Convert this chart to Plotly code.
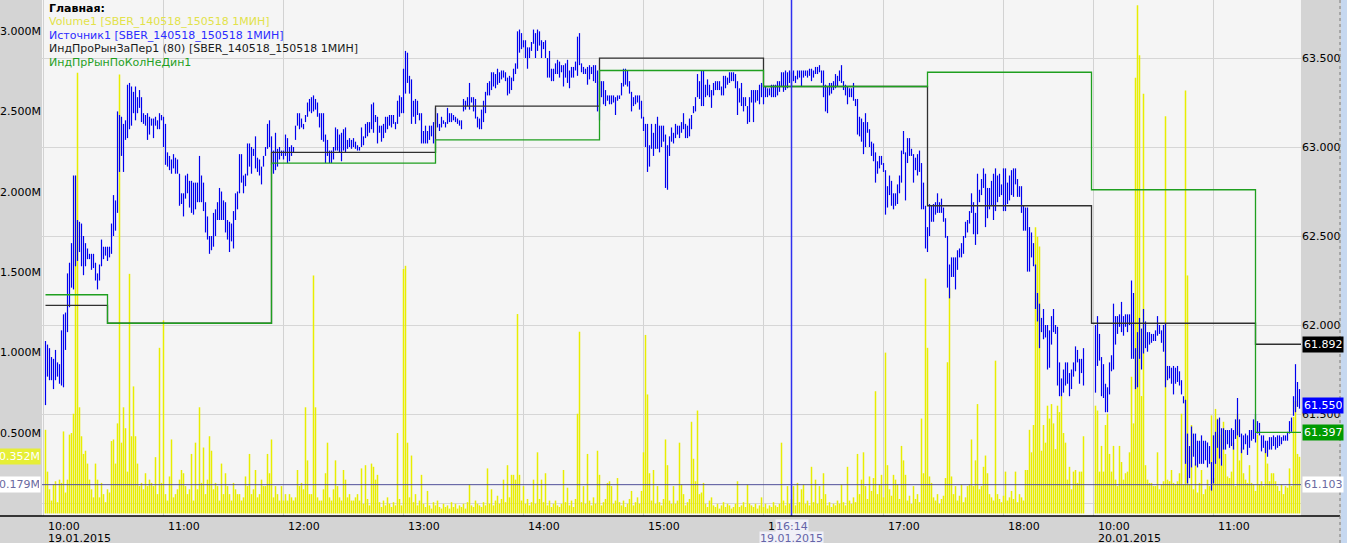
import plotly.graph_objects as go

# ---------------- data ----------------
SESSION_OPEN = "10:00"
SESSION_CLOSE = "18:45"
DAY1_FIRST_BAR = "10:01"
DAY2_FIRST_BAR = "10:01"
DAY1_DATE = "19.01.2015"
DAY2_DATE = "20.01.2015"

day1_high = [
61.91,61.89,61.87,61.82,61.81,61.86,61.79,61.78,61.97,62.06,
62.07,62.29,62.35,62.46,62.84,62.84,62.59,62.58,62.57,62.50,
62.46,62.43,62.40,62.40,62.40,62.35,62.29,62.34,62.48,62.44,
62.44,62.44,62.44,62.57,62.73,62.70,63.20,63.18,63.17,63.13,
63.15,63.35,63.36,63.34,63.31,63.34,63.28,63.32,63.28,63.19,
63.18,63.19,63.17,63.16,63.16,63.17,63.15,63.19,63.18,63.17,
63.13,62.97,62.95,62.93,62.96,62.94,62.93,62.85,62.74,62.74,
62.84,62.85,62.81,62.81,62.80,62.80,62.80,62.95,62.84,62.80,
62.69,62.61,62.50,62.50,62.63,62.65,62.69,62.77,62.75,62.70,
62.69,62.59,62.58,62.57,62.64,62.74,62.75,62.96,62.96,62.84,
62.85,63.02,63.02,63.00,62.99,63.06,62.94,62.93,62.89,62.95,
63.00,63.13,63.15,63.06,62.98,63.08,62.99,63.00,62.98,62.98,
63.07,63.05,63.00,63.01,63.00,63.12,63.19,63.19,63.16,63.13,
63.18,63.25,63.27,63.28,63.29,63.27,63.25,63.19,63.19,63.19,
63.07,63.04,62.98,62.98,63.00,63.11,63.10,63.07,63.08,63.10,
63.11,63.04,63.05,63.04,63.05,63.03,63.01,63.00,63.11,63.06,
63.13,63.14,63.14,63.24,63.25,63.18,63.17,63.12,63.12,63.13,
63.17,63.17,63.18,63.18,63.18,63.14,63.26,63.29,63.28,63.44,
63.54,63.53,63.40,63.38,63.26,63.27,63.26,63.19,63.19,63.09,
63.12,63.09,63.12,63.12,63.14,63.22,63.19,63.13,63.17,63.15,
63.14,63.22,63.19,63.19,63.18,63.17,63.16,63.15,63.15,63.27,
63.26,63.28,63.36,63.28,63.28,63.27,63.17,63.16,63.21,63.26,
63.31,63.36,63.37,63.42,63.42,63.41,63.44,63.42,63.43,63.43,
63.42,63.39,63.40,63.39,63.44,63.47,63.65,63.66,63.64,63.60,
63.60,63.56,63.56,63.59,63.66,63.64,63.66,63.65,63.60,63.59,
63.60,63.50,63.54,63.44,63.44,63.47,63.49,63.48,63.46,63.46,
63.47,63.49,63.43,63.45,63.45,63.48,63.62,63.64,63.47,63.45,
63.44,63.45,63.46,63.45,63.46,63.46,63.43,63.37,63.37,63.37,
63.32,63.29,63.29,63.29,63.29,63.28,63.29,63.29,63.36,63.44,
63.44,63.43,63.37,63.31,63.28,63.29,63.29,63.29,63.26,63.17,
63.13,63.13,63.01,63.13,63.08,63.13,63.17,63.12,63.12,63.12,
63.07,63.01,63.06,63.11,63.08,63.13,63.12,63.12,63.14,63.19,
63.13,63.12,63.16,63.18,63.23,63.28,63.41,63.37,63.43,63.43,
63.35,63.38,63.35,63.32,63.36,63.37,63.37,63.37,63.34,63.40,
63.40,63.39,63.42,63.42,63.42,63.41,63.37,63.33,63.36,63.28,
63.28,63.23,63.28,63.32,63.32,63.32,63.32,63.35,63.36,63.35,
63.34,63.33,63.33,63.35,63.35,63.35,63.37,63.37,63.42,63.42,
63.43,63.42,63.43,63.42,63.43,63.40,63.43,63.43,63.43,63.43,
63.43,63.43,63.44,63.44,63.43,63.45,63.45,63.46,63.43,63.43,
63.35,63.34,63.36,63.36,63.37,63.41,63.40,63.43,63.46,63.37,
63.35,63.34,63.33,63.33,63.36,63.27,63.27,63.17,63.16,63.14,
63.19,63.14,63.10,63.03,63.02,62.97,62.92,62.95,62.95,62.91,
62.87,62.78,62.84,62.81,62.74,62.74,62.79,62.84,62.98,63.09,
62.97,63.05,63.05,62.99,62.96,62.94,62.96,62.98,62.91,62.80,
62.67,62.55,62.68,62.67,62.68,62.69,62.74,62.69,62.71,62.66,
62.60,62.50,62.34,62.38,62.38,62.38,62.42,62.43,62.46,62.50,
62.58,62.59,62.64,62.74,62.69,62.63,62.85,62.76,62.82,62.88,
62.85,62.77,62.77,62.81,62.85,62.88,62.84,62.85,62.79,62.88,
62.88,62.80,62.84,62.87,62.88,62.88,62.82,62.78,62.78,62.67,
62.66,62.66,62.55,62.52,62.46,62.34,62.18,62.12,62.04,62.09,
62.00,62.00,61.97,62.05,62.09,62.00,61.99,61.79,61.70,61.75,
61.79,61.79,61.73,61.75,61.79,61.88,61.86,61.81,61.81,61.87,
]

day1_low = [
61.55,61.71,61.69,61.69,61.64,61.69,61.71,61.67,61.66,61.65,
61.86,61.96,62.10,62.21,62.20,62.33,62.36,62.41,62.33,62.28,
62.33,62.37,62.37,62.31,62.32,62.25,62.20,62.25,62.33,62.37,
62.39,62.36,62.38,62.40,62.50,62.53,62.63,62.86,62.95,62.86,
63.04,63.05,63.10,63.12,63.19,63.15,63.19,63.22,63.14,63.13,
63.12,63.04,63.07,63.12,63.05,63.12,63.10,63.10,63.15,63.00,
62.90,62.89,62.87,62.85,62.88,62.85,62.85,62.67,62.68,62.61,
62.71,62.74,62.66,62.63,62.62,62.65,62.69,62.69,62.69,62.64,
62.52,62.48,62.40,62.42,62.44,62.50,62.59,62.59,62.59,62.59,
62.52,62.48,62.41,62.47,62.43,62.59,62.65,62.74,62.80,62.74,
62.78,62.84,62.89,62.85,62.95,62.88,62.86,62.84,62.79,62.89,
62.95,62.99,63.00,62.90,62.85,62.87,62.89,62.93,62.95,62.93,
62.95,62.91,62.92,62.95,62.97,63.04,63.12,63.10,63.11,63.10,
63.14,63.17,63.20,63.19,63.20,63.21,63.17,63.11,63.04,63.03,
62.91,62.95,62.91,62.91,62.93,62.98,62.98,62.97,62.92,62.98,
62.97,62.99,63.00,62.99,63.00,62.99,62.98,62.98,63.00,63.01,
63.05,63.06,63.08,63.10,63.08,63.14,63.02,63.08,63.03,63.05,
63.08,63.10,63.12,63.11,63.13,63.10,63.13,63.17,63.19,63.19,
63.30,63.36,63.30,63.13,63.17,63.13,63.18,63.15,63.02,63.02,
63.02,63.02,63.04,63.06,63.02,63.13,63.11,63.09,63.11,63.13,
63.11,63.13,63.14,63.14,63.15,63.14,63.13,63.12,63.10,63.20,
63.21,63.23,63.21,63.25,63.20,63.16,63.11,63.10,63.10,63.14,
63.19,63.29,63.29,63.32,63.34,63.33,63.35,63.36,63.38,63.39,
63.37,63.29,63.30,63.32,63.37,63.41,63.44,63.53,63.55,63.56,
63.50,63.44,63.50,63.54,63.58,63.50,63.54,63.57,63.50,63.55,
63.50,63.39,63.39,63.37,63.37,63.41,63.41,63.39,63.42,63.34,
63.39,63.36,63.33,63.39,63.39,63.43,63.40,63.46,63.42,63.41,
63.41,63.35,63.38,63.41,63.37,63.36,63.20,63.15,63.28,63.24,
63.23,63.26,63.24,63.24,63.25,63.18,63.26,63.27,63.29,63.34,
63.35,63.34,63.30,63.20,63.23,63.24,63.25,63.21,63.16,63.09,
63.00,62.86,62.89,62.99,62.95,62.99,62.99,62.97,63.00,63.03,
62.77,62.76,62.95,63.03,63.02,63.05,63.07,63.05,63.08,63.10,
63.05,63.05,63.06,63.10,63.19,63.20,63.28,63.27,63.23,63.23,
63.28,63.29,63.28,63.22,63.29,63.32,63.32,63.32,63.29,63.29,
63.33,63.35,63.36,63.37,63.37,63.33,63.18,63.25,63.23,63.20,
63.23,63.13,63.14,63.25,63.14,63.25,63.26,63.24,63.28,63.24,
63.28,63.28,63.29,63.28,63.28,63.28,63.29,63.31,63.34,63.31,
63.32,63.33,63.36,63.34,63.37,63.36,63.38,63.39,63.34,63.39,
63.40,63.39,63.40,63.37,63.39,63.41,63.41,63.42,63.36,63.28,
63.20,63.19,63.29,63.30,63.32,63.33,63.34,63.37,63.36,63.32,
63.29,63.24,63.28,63.28,63.26,63.23,63.07,63.06,63.03,62.96,
63.00,63.08,63.00,62.95,62.92,62.80,62.85,62.88,62.90,62.86,
62.62,62.66,62.73,62.67,62.65,62.67,62.68,62.74,62.80,62.96,
62.70,62.91,62.95,62.95,62.80,62.87,62.84,62.86,62.65,62.65,
62.43,62.41,62.50,62.58,62.58,62.62,62.63,62.63,62.63,62.58,
62.49,62.21,62.15,62.27,62.27,62.20,62.31,62.38,62.38,62.40,
62.49,62.52,62.57,62.63,62.51,62.45,62.51,62.69,62.73,62.77,
62.55,62.60,62.65,62.67,62.59,62.64,62.69,62.72,62.73,62.64,
62.64,62.68,62.70,62.73,62.72,62.79,62.72,62.72,62.63,62.53,
62.53,62.30,62.30,62.38,62.33,62.09,62.02,61.87,61.96,61.92,
61.93,61.75,61.76,61.89,61.96,61.95,61.66,61.60,61.60,61.62,
61.66,61.67,61.60,61.64,61.71,61.74,61.79,61.67,61.73,61.66,
]

day1_volume_m = [
0.52,0.26,0.15,0.08,0.18,0.20,0.07,0.21,0.19,0.51,
0.13,0.21,0.49,0.50,0.62,2.10,2.74,0.66,0.48,0.37,
0.39,0.31,0.21,0.15,0.10,0.31,0.21,0.10,0.19,0.12,
0.07,0.15,0.13,0.45,0.46,0.31,0.56,2.73,0.44,0.66,
0.53,0.26,1.49,0.48,0.79,0.48,0.31,0.17,0.19,0.15,
0.25,0.17,0.21,0.19,0.17,0.35,0.12,1.03,0.19,1.20,
0.12,0.08,0.23,0.46,0.10,0.12,0.15,0.21,0.27,0.25,
0.17,0.12,0.15,0.37,0.08,0.44,0.15,0.66,0.19,0.41,
0.12,0.21,0.48,0.39,0.15,0.19,0.17,0.08,0.31,0.12,
0.25,0.17,0.12,0.08,0.19,0.15,0.12,0.12,0.08,0.10,
0.23,0.17,0.37,0.12,0.15,0.27,0.10,0.12,0.21,0.17,
0.17,0.37,0.25,0.46,0.10,0.17,0.12,0.08,0.17,0.08,
0.12,0.08,0.12,0.10,0.08,0.10,0.27,0.17,0.19,0.15,
0.66,0.33,0.12,0.12,1.48,0.66,0.10,0.08,0.08,0.15,
0.25,0.44,0.10,0.08,0.15,0.33,0.17,0.10,0.08,0.27,
0.21,0.10,0.12,0.08,0.08,0.10,0.12,0.08,
0.28,0.06,0.30,0.09,0.05,0.31,0.29,0.21,0.24,0.07,
0.04,0.08,0.05,0.10,0.06,0.04,0.07,0.05,0.50,0.09,
0.05,1.52,1.54,0.44,0.10,0.36,0.07,0.12,0.05,0.08,
0.24,0.06,0.04,0.14,0.05,0.03,0.07,0.05,0.08,0.04,
0.03,0.06,0.04,0.05,0.03,0.07,0.04,0.06,0.03,0.05,
0.04,0.06,0.03,0.07,0.18,0.05,0.04,0.08,0.06,0.05,
0.04,0.07,0.05,0.28,0.06,0.15,0.05,0.08,0.11,0.06,
0.09,0.21,0.07,0.30,0.10,0.24,0.24,0.21,1.24,0.24,
0.08,0.17,0.06,0.09,0.05,0.07,0.21,0.06,0.38,0.09,
0.21,0.07,0.25,0.05,0.08,0.04,0.06,0.08,0.05,0.04,
0.06,0.27,0.07,0.16,0.05,0.08,0.04,0.09,0.62,1.13,
0.07,0.17,0.06,0.37,0.08,0.05,0.10,0.06,0.39,0.24,
0.05,0.07,0.09,0.19,0.20,0.17,0.06,0.08,0.22,0.07,
0.05,0.08,0.04,0.06,0.09,0.14,0.05,0.07,0.10,0.06,
0.14,0.38,1.11,0.74,0.25,0.08,0.27,0.06,0.17,0.07,
0.05,0.09,0.46,0.30,0.08,0.06,0.17,
0.06,0.08,0.44,0.18,0.12,0.05,0.07,0.09,0.57,0.34,
0.20,0.64,0.12,0.13,0.19,0.06,0.04,0.08,0.10,0.05,
0.04,0.06,0.03,0.05,0.07,0.04,0.06,0.05,0.03,0.04,
0.06,0.20,0.04,0.05,0.07,0.04,0.18,0.06,0.05,0.04,
0.06,0.03,0.05,0.10,0.04,0.06,0.03,0.05,0.04,0.07,
0.05,0.04,0.06,0.44,0.08,0.05,0.17,0.06,0.09,0.17,
0.05,0.19,0.07,0.15,0.18,0.06,0.08,0.05,0.29,0.07,
0.21,0.06,0.17,0.09,0.25,0.12,0.05,0.07,0.04,0.06,
0.05,0.08,0.06,0.18,0.07,0.05,0.29,0.08,0.06,0.10,
0.07,0.37,0.12,0.21,0.38,0.17,0.09,0.23,0.14,0.22,
0.76,0.12,0.18,0.24,0.10,1.00,0.30,0.15,0.11,0.24,
0.21,0.18,0.09,0.42,0.33,0.24,0.08,0.11,0.06,0.17,
0.09,0.12,0.07,0.59,0.25,1.46,1.03,0.23,0.19,0.10,
0.08,0.12,0.06,0.09,0.11,0.22,0.94,1.40,0.23,0.12,
0.17,0.08,0.11,0.18,0.07,0.10,0.17,0.18,0.46,0.17,
0.33,0.68,0.15,0.17,0.29,0.36,0.25,0.12,
0.10,0.08,0.95,0.12,0.09,0.07,0.11,0.26,0.08,0.10,
0.14,0.09,0.26,0.07,0.12,0.10,0.08,0.27,0.27,0.52,
0.38,0.55,1.78,1.72,1.66,0.39,0.55,0.44,0.67,0.59,
0.68,0.56,0.40,0.67,0.63,0.73,0.50,0.44,0.21,0.29,
0.15,0.26,0.27,0.19,0.26,0.26,0.48,
]

day2_high = [
62.00,62.05,61.95,61.82,61.78,61.67,61.65,61.79,61.83,62.12,
62.05,62.05,62.06,62.13,62.05,62.06,62.06,62.06,62.25,62.18,
61.87,61.96,62.04,61.98,62.09,62.02,61.96,61.96,61.95,61.95,
61.97,62.05,62.00,61.97,62.00,62.01,61.77,61.77,61.76,61.77,
61.76,61.77,61.74,61.69,61.60,61.58,61.39,61.32,61.43,61.39,
61.39,61.35,61.35,61.38,61.35,61.35,61.34,61.32,61.23,61.38,
61.40,61.47,61.48,61.42,61.42,61.41,61.41,61.41,61.42,61.41,
61.47,61.59,61.47,61.39,61.38,61.39,61.38,61.41,61.41,61.47,
61.50,61.46,61.45,61.38,61.38,61.35,61.35,61.37,61.37,61.38,
61.37,61.38,61.38,61.37,61.38,61.38,61.40,61.46,61.48,61.60,
61.78,61.68,61.64,
]

day2_low = [
61.62,61.77,61.80,61.60,61.59,61.51,61.51,61.61,61.74,61.75,
61.89,61.95,61.99,61.96,61.94,61.99,61.96,62.00,61.81,61.81,
61.64,61.65,61.81,61.75,61.84,61.87,61.85,61.89,61.90,61.91,
61.91,61.94,61.95,61.90,61.85,61.65,61.69,61.70,61.67,61.61,
61.67,61.68,61.66,61.61,61.56,61.22,61.11,61.14,61.20,61.26,
61.21,61.20,61.22,61.22,61.22,61.24,61.20,61.22,61.07,61.11,
61.22,61.31,61.25,61.21,61.30,61.30,61.33,61.31,61.32,61.30,
61.36,61.38,61.37,61.28,61.30,61.33,61.27,61.31,61.35,61.36,
61.34,61.39,61.38,61.29,61.31,61.28,61.26,61.30,61.30,61.32,
61.30,61.31,61.32,61.33,61.35,61.35,61.35,61.39,61.40,61.49,
61.51,61.54,61.53,
]

day2_volume_m = [
0.67,0.64,0.26,0.42,0.26,0.55,0.62,0.37,0.26,0.42,
0.21,0.17,0.42,0.32,0.21,0.25,0.26,0.38,0.85,0.56,
2.71,3.16,2.85,0.73,2.61,0.30,0.21,0.19,0.19,0.17,
0.17,0.38,0.15,0.18,0.20,2.47,0.21,0.20,0.27,0.19,
0.18,0.20,0.25,0.62,0.18,2.63,1.48,0.18,0.55,0.15,
0.31,0.13,0.19,0.27,0.12,0.15,0.21,0.17,0.61,0.22,
0.65,0.59,0.49,0.30,0.57,0.37,0.23,0.22,0.26,0.44,
0.17,0.62,0.33,0.41,0.25,0.21,0.19,0.30,0.19,0.18,
0.14,0.49,0.18,0.20,0.17,0.41,0.31,0.20,0.25,0.25,
0.20,0.17,0.14,0.18,0.12,0.17,0.16,0.28,0.17,0.60,
0.70,0.37,0.352,
]

# indicator levels (step lines), each level starts at the given bar time
level_start = [(1, "10:01"), (1, "10:32"), (1, "11:54"), (1, "13:16"), (1, "14:38"),
               (1, "16:00"), (1, "17:22"), (1, "18:44"), (2, "11:21")]
level_black = [62.11, 62.01, 62.97, 63.23, 63.50, 63.34, 62.67, 62.01, 61.892]
level_green = [62.17, 62.01, 62.91, 63.04, 63.43, 63.34, 63.42, 62.76, 61.397]

hour_ticks = [(1, "10:00"), (1, "11:00"), (1, "12:00"), (1, "13:00"), (1, "14:00"),
              (1, "15:00"), (1, "16:00"), (1, "17:00"), (1, "18:00"), (2, "10:00"), (2, "11:00")]

price_ticks = [61.0, 61.5, 62.0, 62.5, 63.0, 63.5]
volume_ticks_m = [0.5, 1.0, 1.5, 2.0, 2.5, 3.0]

cross_time = (1, "16:14")
cross_price = 61.103
cross_volume_m = 0.179
last_close = 61.550

assert len(day1_high) == len(day1_low) == len(day1_volume_m), (len(day1_high), len(day1_low), len(day1_volume_m))
assert len(day2_high) == len(day2_low) == len(day2_volume_m), (len(day2_high), len(day2_low), len(day2_volume_m))


# ---------------- helpers ----------------
def minutes(hhmm):
    h, m = (int(v) for v in hhmm.split(":"))
    return h * 60 + m


DAY2_SHIFT = minutes(SESSION_CLOSE) - minutes(SESSION_OPEN)  # collapsed overnight gap


def axis_pos(day, hhmm):
    return minutes(hhmm) - minutes(SESSION_OPEN) + (DAY2_SHIFT if day == 2 else 0)


x1 = [axis_pos(1, DAY1_FIRST_BAR) + k for k in range(len(day1_high))]
x2 = [axis_pos(2, DAY2_FIRST_BAR) + k for k in range(len(day2_high))]
xs = x1 + x2
highs = day1_high + day2_high
lows = day1_low + day2_low
vols = day1_volume_m + day2_volume_m

FONT = "DejaVu Sans"

fig = go.Figure()

# volume (left axis): thin histogram sticks from zero
vx, vy = [], []
for x, v in zip(xs, vols):
    vx += [x, x, None]
    vy += [0, v, None]
fig.add_trace(go.Scatter(x=vx, y=vy, mode="lines", yaxis="y",
                         line=dict(color="#e8ee00", width=1.5), hoverinfo="skip"))

# price range bars (right axis)
bx, by = [], []
for x, lo, hi in zip(xs, lows, highs):
    bx += [x, x, None]
    by += [lo, hi, None]
fig.add_trace(go.Scatter(x=bx, y=by, mode="lines", yaxis="y2",
                         line=dict(color="#0000ee", width=1.2), hoverinfo="skip"))

# step indicators
sx = [axis_pos(d, t) for d, t in level_start] + [xs[-1] + 1]
fig.add_trace(go.Scatter(x=sx, y=level_black + [level_black[-1]], mode="lines", yaxis="y2",
                         line=dict(color="#303030", width=1.3, shape="hv"), hoverinfo="skip"))
fig.add_trace(go.Scatter(x=sx, y=level_green + [level_green[-1]], mode="lines", yaxis="y2",
                         line=dict(color="#1f9f1f", width=1.3, shape="hv"), hoverinfo="skip"))

L, R, T, B = 42, 46, 0, 27
W, H = 1347, 543
PW, PH = W - L - R, H - T - B


def px_x(p):
    return (p - L) / PW


def px_y(p):
    return 1 - (p - T) / PH


tick_pos = [axis_pos(d, t) for d, t in hour_ticks]

fig.update_layout(
    width=W, height=H,
    margin=dict(l=L, r=R, t=T, b=B, pad=0),
    paper_bgcolor="#d4d4d4", plot_bgcolor="#f5f5f5",
    showlegend=False, hovermode=False,
    font=dict(family=FONT, size=11, color="#000000"),
    xaxis=dict(range=[-0.75, 628.75], tickvals=tick_pos, showticklabels=False,
               showgrid=True, gridcolor="#d2d2d2", gridwidth=1, zeroline=False,
               ticks="", showline=False, fixedrange=True),
    yaxis=dict(range=[-0.016, 3.193], tickvals=volume_ticks_m,
               ticktext=[f"{v:.3f}M" for v in volume_ticks_m],
               showgrid=False, zeroline=False, ticks="", side="left",
               tickfont=dict(family=FONT, size=11, color="#000")),
    yaxis2=dict(range=[60.927, 63.826], overlaying="y", side="right",
                tickvals=price_ticks,
                ticktext=["" if p == price_ticks[0] else f"{p:.3f}" for p in price_ticks],
                showgrid=True, gridcolor="#d6d6d6", gridwidth=1, zeroline=False, ticks="",
                tickfont=dict(family=FONT, size=11, color="#000")),
)

shapes = [
    # crosshair
    dict(type="line", xref="paper", yref="y2", x0=0, x1=1, y0=cross_price, y1=cross_price,
         line=dict(color="#50509a", width=1)),
    dict(type="line", xref="x", yref="paper", x0=axis_pos(*cross_time), x1=axis_pos(*cross_time),
         y0=0, y1=1, line=dict(color="#3030f0", width=1.5)),
    # bottom axis line
    dict(type="line", xref="paper", yref="paper", x0=px_x(0), x1=px_x(1340), y0=0, y1=0,
         line=dict(color="#000000", width=1.5)),
    # right edge: dotted line + light blue strip
    dict(type="line", xref="paper", yref="paper", x0=px_x(1340), x1=px_x(1340), y0=px_y(543), y1=1,
         line=dict(color="#7a7a7a", width=1, dash="dot")),
    dict(type="rect", xref="paper", yref="paper", x0=px_x(1341), x1=px_x(1347), y0=px_y(543), y1=1,
         fillcolor="#c6d8f0", line=dict(width=0)),
]
fig.update_layout(shapes=shapes)

ann = []
# header / legend text
legend_lines = [
    ("<b>Главная:</b>", "#000000", 8.5),
    ("Volume1 [SBER_140518_150518 1МИН]", "#e2e24a", 22),
    ("Источник1 [SBER_140518_150518 1МИН]", "#2c2cff", 35.5),
    ("ИндПроРынЗаПер1 (80) [SBER_140518_150518 1МИН]", "#1a1a1a", 49),
    ("ИндПрРынПоКолНеДин1", "#1f9f1f", 62.5),
]
for text, col, ypx in legend_lines:
    ann.append(dict(text=text, xref="paper", yref="paper", x=0, y=px_y(ypx), xshift=5,
                    xanchor="left", yanchor="middle", showarrow=False,
                    font=dict(family=FONT, size=11, color=col)))

# time labels
for (d, t), p in zip(hour_ticks, tick_pos):
    ann.append(dict(text=t, xref="x", yref="paper", x=p, y=0, xshift=2, yshift=-10.5,
                    xanchor="left", yanchor="middle", showarrow=False,
                    font=dict(family=FONT, size=11, color="#000")))
for d, date in [(1, DAY1_DATE), (2, DAY2_DATE)]:
    ann.append(dict(text=date, xref="x", yref="paper", x=axis_pos(d, SESSION_OPEN), y=0,
                    xshift=2, yshift=-22.5, xanchor="left", yanchor="middle", showarrow=False,
                    font=dict(family=FONT, size=11, color="#000")))

# crosshair time labels
cx = axis_pos(*cross_time)
ann.append(dict(text=cross_time[1], xref="x", yref="paper", x=cx, y=0, yshift=-10.5,
                xanchor="center", yanchor="middle", showarrow=False, bgcolor="#f0f0f7",
                borderpad=0, font=dict(family=FONT, size=11, color="#6464a8")))
ann.append(dict(text=DAY1_DATE, xref="x", yref="paper", x=cx, y=0, yshift=-22.5,
                xanchor="center", yanchor="middle", showarrow=False, bgcolor="#f0f0f7",
                borderpad=0, font=dict(family=FONT, size=11, color="#6464a8")))

# right axis value markers
for val, bg, fg in [(level_black[-1], "#000000", "#ffffff"),
                    (last_close, "#0000ff", "#ffffff"),
                    (level_green[-1], "#009a00", "#ffffff"),
                    (cross_price, "#ffffff", "#6a6aa0")]:
    ann.append(dict(text=f"{val:.3f}", xref="paper", yref="y2", x=1, y=val, xshift=1,
                    xanchor="left", yanchor="middle", showarrow=False, bgcolor=bg,
                    width=38, align="left", borderpad=1,
                    font=dict(family=FONT, size=11, color=fg)))

# left axis value markers
for val, bg, fg in [(vols[-1], "#e6ee36", "#ffffff"),
                    (cross_volume_m, "#ffffff", "#6a6aa0")]:
    ann.append(dict(text=f"{val:.3f}M", xref="paper", yref="y", x=0, y=val, xshift=-1,
                    xanchor="right", yanchor="middle", showarrow=False, bgcolor=bg,
                    width=40, align="left", borderpad=1,
                    font=dict(family=FONT, size=11, color=fg)))

fig.update_layout(annotations=ann)

fig.write_html("out.html", config={"displayModeBar": False},
               post_script="document.body.style.margin='0px';document.body.style.overflow='hidden';")
